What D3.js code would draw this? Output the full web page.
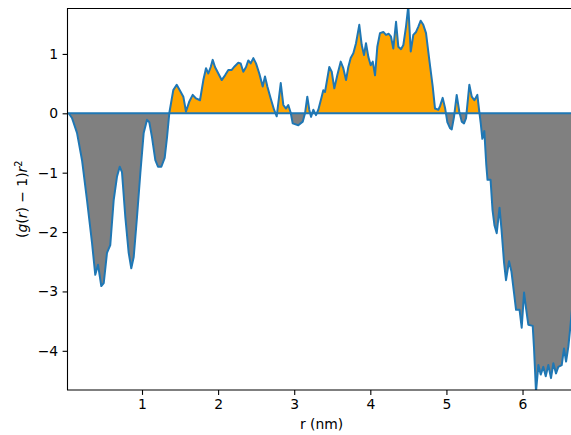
<!DOCTYPE html>
<html>
<head>
<meta charset="utf-8">
<script src="https://cdn.jsdelivr.net/npm/d3@7"></script>
<style>
  body { margin: 0; background: #fff; }
  text { font-family: "DejaVu Sans", sans-serif; fill: #000; }
</style>
</head>
<body>
<svg id="chart" width="571" height="435"></svg>
<script>
// r values (nm) and (g(r)-1)r^2
const rVals = [
  0.037, 0.080, 0.146, 0.212, 0.277, 0.343, 0.386, 0.422, 0.465, 0.497,
  0.540, 0.583, 0.628, 0.671, 0.707, 0.737, 0.781, 0.825, 0.859, 0.891,
  0.934, 0.978, 1.022, 1.066, 1.096, 1.131, 1.175, 1.210, 1.254, 1.298,
  1.329, 1.359, 1.411, 1.456, 1.509, 1.543, 1.578, 1.622, 1.666, 1.710,
  1.762, 1.806, 1.841, 1.871, 1.903, 1.929, 1.959, 2.003, 2.047, 2.091,
  2.134, 2.179, 2.209, 2.265, 2.297, 2.331, 2.367, 2.397, 2.428, 2.463,
  2.498, 2.541, 2.586, 2.616, 2.647, 2.691, 2.735, 2.770, 2.791, 2.823,
  2.857, 2.892, 2.922, 2.954, 2.980, 3.054, 3.112, 3.142, 3.172, 3.198,
  3.221, 3.251, 3.286, 3.317, 3.361, 3.382, 3.405, 3.461, 3.493, 3.527,
  3.566, 3.611, 3.645, 3.681, 3.711, 3.742, 3.777, 3.812, 3.855, 3.887,
  3.917, 3.943, 3.974, 4.005, 4.032, 4.062, 4.092, 4.127, 4.171, 4.206,
  4.242, 4.272, 4.302, 4.338, 4.368, 4.403, 4.434, 4.469, 4.499, 4.531,
  4.565, 4.601, 4.631, 4.662, 4.696, 4.732, 4.775, 4.820, 4.850, 4.894,
  4.916, 4.951, 4.982, 5.012, 5.047, 5.070, 5.100, 5.135, 5.169, 5.201,
  5.231, 5.258, 5.301, 5.333, 5.367, 5.406, 5.432, 5.451, 5.472, 5.498,
  5.524, 5.540, 5.580, 5.606, 5.632, 5.661, 5.698, 5.724, 5.757, 5.783,
  5.823, 5.855, 5.888, 5.915, 5.961, 5.989, 6.020, 6.046, 6.076, 6.134,
  6.151, 6.177, 6.208, 6.239, 6.273, 6.305, 6.339, 6.374, 6.405, 6.440,
  6.470, 6.515, 6.545, 6.572, 6.602, 6.624, 6.650
]
const gVals = [
  0.00, -0.08, -0.33, -0.79, -1.46, -2.18, -2.72, -2.55, -2.91, -2.86,
  -2.35, -2.22, -1.46, -1.07, -0.90, -0.99, -1.75, -2.35, -2.61, -2.42,
  -1.75, -1.01, -0.33, -0.11, -0.15, -0.40, -0.79, -0.90, -0.90, -0.75,
  -0.40, 0.005, 0.39, 0.48, 0.36, 0.28, 0.03, 0.20, 0.31, 0.25,
  0.22, 0.56, 0.76, 0.67, 0.78, 0.90, 0.78, 0.67, 0.56, 0.64,
  0.73, 0.73, 0.78, 0.85, 0.84, 0.70, 0.78, 0.89, 0.84, 0.93,
  0.84, 0.67, 0.45, 0.62, 0.45, 0.25, 0.06, -0.05, 0.17, 0.51,
  0.14, 0.08, 0.14, 0.01, -0.17, -0.20, -0.14, 0.00, 0.28, 0.06,
  -0.06, 0.06, -0.03, 0.06, 0.28, 0.39, 0.36, 0.78, 0.70, 0.42,
  0.64, 0.87, 0.76, 0.56, 0.78, 0.93, 1.01, 1.18, 1.49, 1.15,
  0.98, 1.18, 0.95, 0.81, 0.87, 0.64, 1.12, 1.35, 1.37, 1.32,
  1.34, 1.29, 1.09, 1.54, 1.12, 1.08, 1.15, 1.46, 1.81, 1.04,
  1.32, 1.37, 1.46, 1.56, 1.49, 1.35, 0.90, 0.45, 0.08, 0.06,
  0.12, 0.26, 0.09, -0.15, -0.25, -0.27, -0.06, 0.31, 0.03, -0.14,
  -0.17, -0.08, 0.48, 0.28, 0.22, 0.31, 0.03, -0.17, -0.43, -0.30,
  -0.87, -1.12, -1.12, -1.63, -1.89, -2.02, -1.59, -1.96, -2.51, -2.81,
  -2.49, -2.67, -3.02, -3.31, -3.31, -3.61, -3.02, -3.28, -3.56, -3.58,
  -3.95, -4.69, -4.24, -4.40, -4.27, -4.43, -4.24, -4.46, -4.21, -4.38,
  -4.27, -4.24, -3.96, -4.18, -3.93, -3.65, -3.31
]
const xTicks = [1, 2, 3, 4, 5, 6]
const yTicks = [1, 0, -1, -2, -3, -4]

const svg = d3.select('#chart')
const mLeft = 67.5, mTop = 8.5, mBottom = 390, mRight = 575.8

const x = d3.scaleLinear().domain([0.021, 6.70]).range([mLeft, mRight])
const y = d3.scaleLinear().domain([-4.66, 1.765]).range([mBottom, mTop])

const data = rVals.map((r, i) => ({ r: r, v: gVals[i] }))

// add zero crossings so the two fills meet cleanly under the line
const filled = []
data.forEach((d, i) => {
  if (i > 0) {
    const p = data[i - 1]
    if ((p.v > 0 && d.v < 0) || (p.v < 0 && d.v > 0)) {
      const t = p.v / (p.v - d.v)
      filled.push({ r: p.r + t * (d.r - p.r), v: 0 })
    }
  }
  filled.push(d)
})

svg.append('defs').append('clipPath').attr('id', 'clip')
  .append('rect')
  .attr('x', mLeft).attr('y', mTop)
  .attr('width', mRight - mLeft).attr('height', mBottom - mTop)

const plot = svg.append('g').attr('clip-path', 'url(#clip)')

const areaPos = d3.area()
  .x(d => x(d.r)).y0(y(0)).y1(d => y(Math.max(d.v, 0)))
const areaNeg = d3.area()
  .x(d => x(d.r)).y0(y(0)).y1(d => y(Math.min(d.v, 0)))

plot.append('path').datum(filled)
  .attr('d', areaPos).attr('fill', '#ffa500')
plot.append('path').datum(filled)
  .attr('d', areaNeg).attr('fill', '#808080')

// zero line
plot.append('line')
  .attr('x1', mLeft).attr('x2', mRight)
  .attr('y1', y(0)).attr('y2', y(0))
  .attr('stroke', '#1f77b4').attr('stroke-width', 2)

plot.append('path').datum(data)
  .attr('d', d3.line().x(d => x(d.r)).y(d => y(d.v)))
  .attr('fill', 'none')
  .attr('stroke', '#1f77b4')
  .attr('stroke-width', 2)
  .attr('stroke-linejoin', 'round')

// axes
const fmt = d => d < 0 ? '\u2212' + Math.abs(d) : String(d)

const xAxis = svg.append('g')
  .attr('transform', `translate(0,${mBottom})`)
  .call(d3.axisBottom(x).tickValues(xTicks).tickFormat(fmt).tickSize(4.9).tickPadding(4.5))
const yAxis = svg.append('g')
  .attr('transform', `translate(${mLeft},0)`)
  .call(d3.axisLeft(y).tickValues(yTicks).tickFormat(fmt).tickSize(4.9).tickPadding(4.5))

;[xAxis, yAxis].forEach(a => {
  a.select('.domain').remove()
  a.selectAll('.tick line').attr('stroke', '#000').attr('stroke-width', 1.1)
  a.selectAll('.tick text').attr('font-size', 13.9)
    .style('font-family', '"DejaVu Sans", sans-serif').attr('fill', '#000')
})

// spines: left, top, bottom
svg.append('path')
  .attr('d', `M${mRight},${mTop}H${mLeft}V${mBottom}H${mRight}`)
  .attr('fill', 'none').attr('stroke', '#000').attr('stroke-width', 1.1)

svg.append('text')
  .attr('x', (mLeft + mRight) / 2).attr('y', 429)
  .attr('text-anchor', 'middle').attr('font-size', 13.9)
  .text('r (nm)')

const yl = svg.append('text')
  .attr('transform', `translate(27,${(mTop + mBottom) / 2}) rotate(-90)`)
  .attr('text-anchor', 'middle').attr('font-size', 13.9)
yl.append('tspan').text('(')
yl.append('tspan').attr('font-style', 'italic').text('g')
yl.append('tspan').text('(')
yl.append('tspan').attr('font-style', 'italic').text('r')
yl.append('tspan').text(') \u2212 1)')
yl.append('tspan').attr('font-style', 'italic').text('r')
yl.append('tspan').attr('font-size', 9.7).attr('dy', -5).text('2')
</script>
</body>
</html>
